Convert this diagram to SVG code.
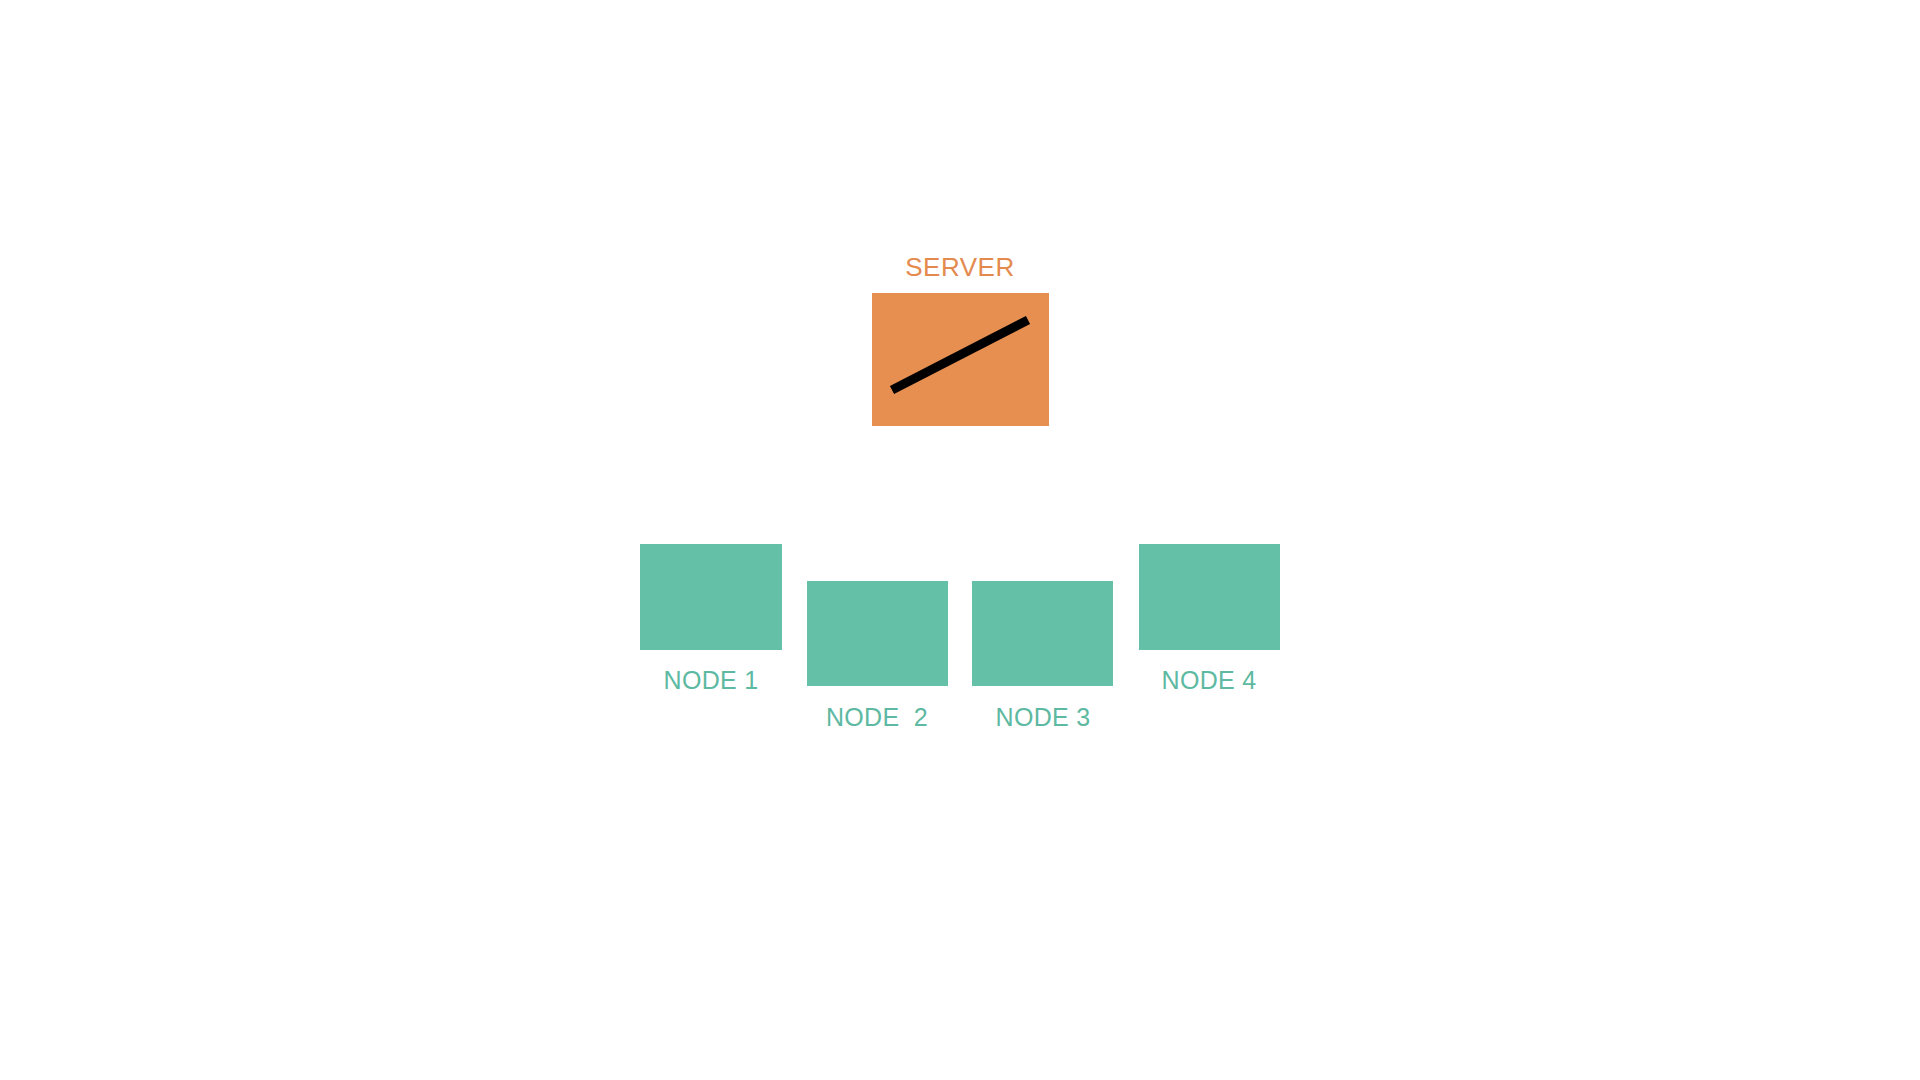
<svg xmlns="http://www.w3.org/2000/svg" width="1920" height="1080" viewBox="0 0 1920 1080">
<style>
.bg{fill:#ffffff}
.server{fill:#E78F51}
.node{fill:#64C1A8}
.slabel{font-family:"Liberation Sans","DejaVu Sans",sans-serif;font-size:26px;fill:#E48A4E;text-anchor:middle;letter-spacing:0.5px}
.nlabel{font-family:"Liberation Sans","DejaVu Sans",sans-serif;font-size:25px;fill:#5DB9A1;text-anchor:middle;letter-spacing:0.3px}
</style>
<rect class="bg" x="0" y="0" width="1920" height="1080"/>
<g id="server">
<text class="slabel" x="960" y="276">SERVER</text>
<rect class="server" x="872" y="293" width="177" height="133"/>
<line x1="892" y1="390" x2="1028" y2="320" stroke="#000" stroke-width="9"/>
</g>
<g id="node1">
<rect class="node" x="640" y="544" width="142" height="106"/>
<text class="nlabel" x="711" y="689">NODE 1</text>
</g>
<g id="node2">
<rect class="node" x="807" y="581" width="141" height="105"/>
<text class="nlabel" x="877" y="726" xml:space="preserve">NODE  2</text>
</g>
<g id="node3">
<rect class="node" x="972" y="581" width="141" height="105"/>
<text class="nlabel" x="1043" y="726">NODE 3</text>
</g>
<g id="node4">
<rect class="node" x="1139" y="544" width="141" height="106"/>
<text class="nlabel" x="1209" y="689">NODE 4</text>
</g>
<g id="connectors"/>
</svg>
